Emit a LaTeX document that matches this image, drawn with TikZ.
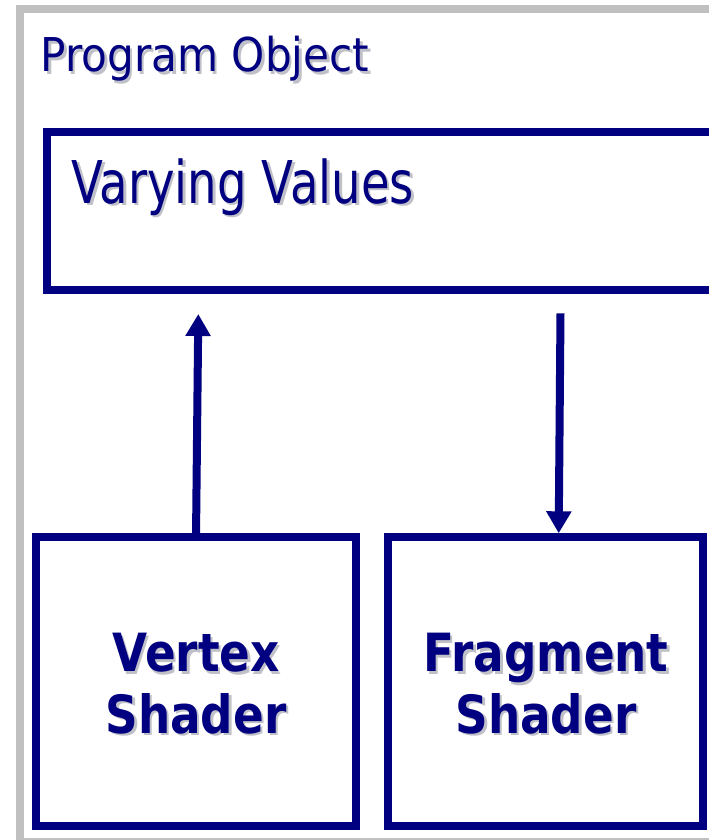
\documentclass[tikz,border=0pt]{standalone}
\usepackage{fontspec}
\setmainfont{DejaVu Sans}
\newfontfamily\progfont[FakeStretch=0.905]{DejaVu Sans}
\newfontfamily\varyfont[FakeStretch=0.79]{DejaVu Sans}
\newfontfamily\shadfont[FakeStretch=0.86]{DejaVu Sans Bold}
\usetikzlibrary{arrows.meta}
\definecolor{navy}{RGB}{0,0,128}
\definecolor{shadowgray}{RGB}{192,192,200}
\definecolor{framegray}{RGB}{192,192,192}
\newcommand{\shadowed}[1]{\makebox[0pt][l]{\hspace{1.9pt}\raisebox{-1.9pt}{\textcolor{shadowgray}{#1}}}#1}
\begin{document}
\begin{tikzpicture}[x=0.75pt,y=-0.75pt,
  framebox/.style={draw=framegray, line width=6pt, rectangle, inner sep=0pt, outer sep=0pt},
  bluebox/.style={draw=navy, line width=6pt, rectangle, inner sep=0pt, outer sep=0pt},
  textstyle/.style={text=navy, inner sep=0pt, outer sep=0pt},
  arrowline/.style={draw=navy, line width=6pt, -{Triangle[width=18pt,length=16.5pt]}}]
\useasboundingbox (0,0) rectangle (709,840);
\clip (0,0) rectangle (709,840);
\fill[white] (0,0) rectangle (709,840);
% boxes
\node[framebox, minimum width=540pt, minimum height=624.4pt] (prog) at (380,425.25) {};
\node[bluebox, minimum width=535pt, minimum height=118.7pt] (vary) at (403.35,210.85) {};
\node[bluebox, minimum width=240pt, minimum height=216.4pt] (vtx) at (196,681.75) {};
\node[bluebox, minimum width=235.65pt, minimum height=216.4pt] (frag) at (545.4,681.75) {};
% texts
\node[textstyle, anchor=base west] (progT) at (40.5,71.5)
  {\progfont\fontsize{34.95pt}{40pt}\selectfont\shadowed{Program Object}};
\node[textstyle, anchor=base west] (varyT) at (71.5,203)
  {\varyfont\fontsize{44.2pt}{50pt}\selectfont\shadowed{Varying Values}};
\node[textstyle, anchor=base] (vtxA) at (196,671.7)
  {\shadfont\fontsize{39.5pt}{46pt}\selectfont\shadowed{Vertex}};
\node[textstyle, anchor=base] (vtxB) at (196,733.3)
  {\shadfont\fontsize{39.5pt}{46pt}\selectfont\shadowed{Shader}};
\node[textstyle, anchor=base] (fragA) at (546,671.7)
  {\shadfont\fontsize{39.5pt}{46pt}\selectfont\shadowed{Fragment}};
\node[textstyle, anchor=base] (fragB) at (546,733.3)
  {\shadfont\fontsize{39.5pt}{46pt}\selectfont\shadowed{Shader}};
% arrows
\coordinate (upTip) at (198.3,314);
\coordinate (dnTop) at (560.5,313.3);
\coordinate (dnTip) at (558.7,533.3);
\draw[arrowline] (vtx.north) -- (upTip);
\draw[arrowline] (dnTop) -- (dnTip);
\end{tikzpicture}
\end{document}
